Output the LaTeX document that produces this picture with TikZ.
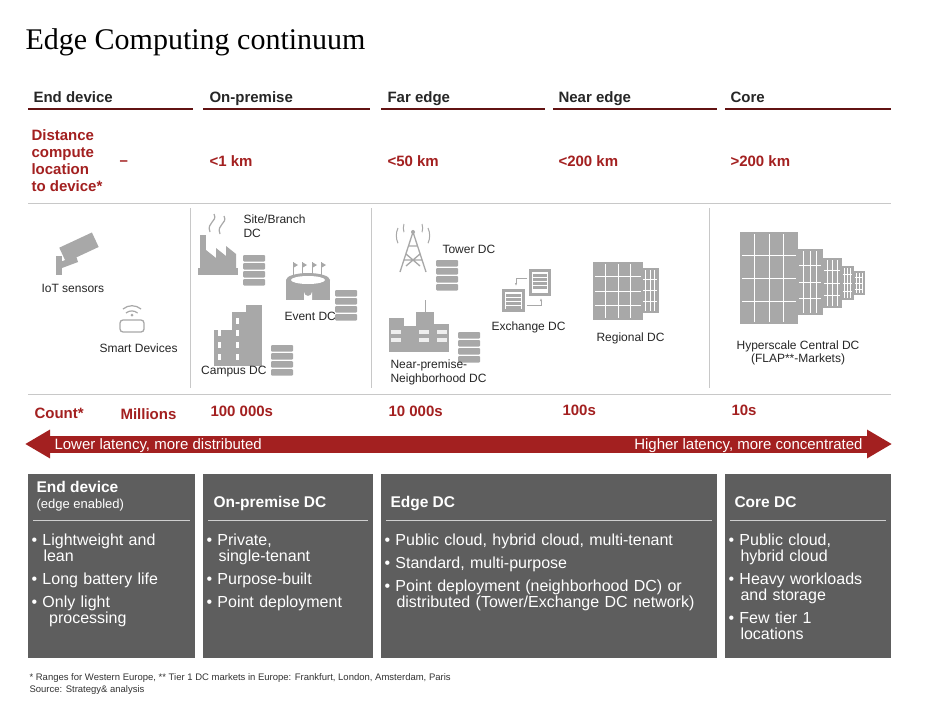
\documentclass[tikz,border=0pt]{standalone}
\usepackage{fontspec}
\setmainfont{Liberation Sans}
\newfontfamily\titlefont{Liberation Serif}
\usetikzlibrary{arrows.meta}
\definecolor{pwcred}{HTML}{A32020}
\definecolor{boxgrey}{HTML}{5E5E5E}
\definecolor{icongrey}{HTML}{A8A8A8}
\definecolor{rulegrey}{HTML}{C8C8C8}
\newcommand{\srvstack}[2]{%
  \foreach \k in {0,1,2,3}{\fill[icongrey,rounded corners=1pt] (#1,#2+\k*8) rectangle ++(22,6.5);}}
\newcommand{\rack}[4]{% x y w h
  \fill[icongrey] (#1,#2) rectangle ++(#3,#4);
  \foreach \i in {1,...,3}{\draw[white,line width=0.6pt] (#1+\i*#3/4,#2+2) -- ++(0,#4-4);}
  \foreach \j in {1,...,3}{\draw[white,line width=0.8pt] (#1+2,#2+\j*#4/4) -- ++(#3-4,0);}}
\tikzset{
  hdr/.style={anchor=base west,font=\fontsize{15}{17}\selectfont\bfseries,text=black!85},
  red/.style={anchor=base west,font=\fontsize{15}{17}\selectfont\bfseries,text=pwcred},
  lbl/.style={anchor=base west,font=\fontsize{12}{14}\selectfont,text=black!85,align=left},
  box/.style={fill=boxgrey,draw=none},
  bt/.style={anchor=north west,font=\fontsize{16}{17}\selectfont,text=white,align=left,text width=#1},
  bh/.style={anchor=base west,font=\fontsize{15.5}{17}\selectfont\bfseries,text=white,align=left},
}
\begin{document}
\begin{tikzpicture}[x=1pt,y=-1pt]
\useasboundingbox[fill=white] (0,0) rectangle (931,701);
\node[anchor=base west,font=\titlefont\fontsize{30}{32}\selectfont] (title) at (22,50) {Edge Computing continuum};
% headers
\foreach \x/\t/\a/\b [count=\n] in {32/End device/28/193,208/On-premise/203/370,386/Far edge/381/545,557/Near edge/553/717,729/Core/725/891}{
  \node[hdr] (h\n) at (\x-2,102) {\t};
  \draw[pwcred!60!black,line width=1.2pt] (\a,109) -- (\b,109);
}
\node[red,align=left,anchor=north west,font=\fontsize{15}{17}\selectfont\bfseries] (dist) at (28,126) {Distance\\compute\\location\\to device*};
\node[red] (d0) at (116,165) {–};
\node[red] (d1) at (206,166) {<1 km};
\node[red] (d2) at (384,166) {<50 km};
\node[red] (d3) at (555,166) {<200 km};
\node[red] (d4) at (727,166) {>200 km};
\draw[rulegrey,line width=1pt] (28,203) -- (891,203);
\draw[rulegrey,line width=1pt] (28,394) -- (891,394);
\foreach \x in {190,371,709}{\draw[rulegrey,line width=0.8pt] (\x,208) -- (\x,388);}
% --- icons ---
% camera
\fill[icongrey,rotate around={25:(78,250)}] (62,240) rectangle (98,256);
\fill[icongrey] (56,256) rectangle (62,275); \fill[icongrey] (60,262) -- (76,256) -- (78,262) -- (62,268) -- cycle;
\node[lbl] (iot) at (38,292) {IoT sensors};
% smart device (VR)
\draw[icongrey,line width=1.3pt,rounded corners=3pt] (120,320) rectangle (144,332);
\draw[icongrey,line width=1.2pt] (126,313) arc (230:310:9);
\draw[icongrey,line width=1.2pt] (123,309) arc (230:310:14);
\fill[icongrey] (132,315) circle (1.5);
\node[lbl] (smart) at (96,352) {Smart Devices};
% factory
\fill[icongrey] (200,235) rectangle (206,268);
\fill[icongrey] (206,268) -- (206,250) -- (216,258) -- (216,248) -- (226,256) -- (226,246) -- (236,254) -- (236,268) -- cycle;
\fill[icongrey] (198,268) rectangle (238,275);
\draw[icongrey,line width=1.2pt] (210,232) .. controls (206,222) and (218,222) .. (214,214);
\draw[icongrey,line width=1.2pt] (220,234) .. controls (216,224) and (228,224) .. (224,216);
\srvstack{243}{255}
\node[lbl] (site) at (240,237) {Site/Branch\\DC};
% stadium
\fill[icongrey] (286,280) rectangle (330,300);
\fill[icongrey] (308,280) ellipse (22 and 7);
\fill[white] (308,280) ellipse (17 and 4);
\foreach \x in {293,302,312,321}{\draw[icongrey,line width=1pt] (\x,276) -- (\x,262); \fill[icongrey] (\x,262) -- (\x+5,265) -- (\x,268) -- cycle;}
\fill[white] (304,300) -- (304,292) arc (180:0:4) -- (312,300) -- cycle;
\srvstack{335}{290}
\node[lbl] (event) at (281,320) {Event DC};
% campus buildings
\fill[icongrey] (214,330) rectangle (232,372);
\fill[icongrey] (232,312) rectangle (246,372);
\fill[icongrey] (246,305) rectangle (262,372);
\foreach \y in {318,330,342,354}{\fill[white] (236,\y) rectangle ++(3,6); \fill[white] (218,\y+12) rectangle ++(3,6);}
\srvstack{271}{345}
\node[lbl,fill=white,inner xsep=1pt,inner ysep=0pt] (campus) at (200,374) {Campus DC};
% tower
\draw[icongrey,line width=1.3pt] (400,272) -- (413,232) -- (426,272) (404,260) -- (422,260) (406,254) -- (420,266) (420,254) -- (406,266) (408,246) -- (418,246);
\fill[icongrey] (413,232) circle (2);
\draw[icongrey,line width=1pt] (404,224) arc (200:160:12) (422,224) arc (-20:20:12);
\draw[icongrey,line width=1pt] (398,228) arc (205:155:18) (428,228) arc (-25:25:18);
\srvstack{436}{260}
\node[lbl] (tower) at (439,253) {Tower DC};
% neighborhood buildings
\fill[icongrey] (389,318) rectangle (404,352);
\fill[icongrey] (404,326) rectangle (416,352);
\fill[icongrey] (416,312) rectangle (434,352);
\fill[icongrey] (434,324) rectangle (449,352);
\draw[icongrey,line width=1pt] (425,312) -- (425,300);
\foreach \x in {391,419,437}{\foreach \y in {330,338}{\fill[white!80!icongrey] (\x,\y) rectangle ++(10,4);}}
\srvstack{458}{332}
\node[lbl] (nbh) at (387,382) {Near-premise-\\Neighborhood DC};
% exchange
\fill[icongrey] (502,289) rectangle (525,312); \fill[white] (505,292) rectangle (522,309);
\foreach \y in {294,298,302,306}{\fill[icongrey] (506,\y) rectangle (521,\y+2.5);}
\fill[icongrey] (529,269) rectangle (551,296); \fill[white] (532,272) rectangle (548,293);
\foreach \y in {274,278,282,286}{\fill[icongrey] (533,\y) rectangle (547,\y+2.5);}
\draw[icongrey,line width=1pt,-{Latex[length=3pt]}] (527,278) -- (516,278) -- (516,286);
\draw[icongrey,line width=1pt,-{Latex[length=3pt]}] (527,305) -- (541,305) -- (541,298);
\node[lbl] (exch) at (488,330) {Exchange DC};
% regional
\rack{641}{268}{18}{45}
\rack{593}{262}{50}{58}
\node[lbl] (reg) at (593,341) {Regional DC};
% hyperscale
\rack{853}{271}{12}{24}
\rack{841}{266}{13}{34}
\rack{822}{258}{20}{50}
\rack{797}{249}{26}{66}
\rack{740}{232}{58}{92}
\node[lbl,align=center,anchor=north,font=\fontsize{12}{13.5}\selectfont] (hyp) at (798,337) {Hyperscale Central DC\\(FLAP**-Markets)};
% count row
\node[red] (c0) at (31,418) {Count*};
\node[red] (c1) at (117,419) {Millions};
\node[red] (c2) at (207,416) {100 000s};
\node[red] (c3) at (385,416) {10 000s};
\node[red] (c4) at (559,415) {100s};
\node[red] (c5) at (728,415) {10s};
% arrow
\coordinate (al) at (25,444); \coordinate (ar) at (892,444);
\draw[pwcred,line width=17pt,{Triangle[length=25pt,width=27pt]}-{Triangle[length=25pt,width=27pt]}] (al) -- (ar);
\node[anchor=base west,font=\fontsize{15}{16}\selectfont,text=white] (lo) at (51,449) {Lower latency, more distributed};
\node[anchor=base east,font=\fontsize{15}{16}\selectfont,text=white] (hi) at (866,449) {Higher latency, more concentrated};
% boxes
\fill[box] (28,474) rectangle (195,658);
\fill[box] (203,474) rectangle (373,658);
\fill[box] (381,474) rectangle (717,658);
\fill[box] (725,474) rectangle (891,658);
\foreach \a/\b in {28/195,203/373,381/717,725/891}{\draw[white!70!boxgrey,line width=0.8pt] (\a+5,520) -- (\b-5,520);}
\node[bh] (b1) at (33,492) {End device};
\node[anchor=base west,font=\fontsize{13}{14}\selectfont,text=white] (b1s) at (33,508) {(edge enabled)};
\node[bh] (b2) at (210,507) {On-premise DC};
\node[bh] (b3) at (387,507) {Edge DC};
\node[bh] (b4) at (731,507) {Core DC};
\node[bt=165pt] (t1) at (28,530) {• Lightweight and\\[-1pt]\hspace*{0.75em}lean\\[6pt]• Long battery life\\[6pt]• Only light\\[-1pt]\hspace*{1.1em}processing};
\node[bt=168pt] (t2) at (203,530) {• Private,\\[-1pt]\hspace*{0.75em}single-tenant\\[6pt]• Purpose-built\\[6pt]• Point deployment};
\node[bt=335pt] (t3) at (381,530) {• Public cloud, hybrid cloud, multi-tenant\\[6pt]• Standard, multi-purpose\\[6pt]• Point deployment (neighborhood DC) or\\[-1pt]\hspace*{0.75em}distributed (Tower/Exchange DC network)};
\node[bt=165pt] (t4) at (725,530) {• Public cloud,\\[-1pt]\hspace*{0.75em}hybrid cloud\\[6pt]• Heavy workloads\\[-1pt]\hspace*{0.75em}and storage\\[6pt]• Few tier 1\\[-1pt]\hspace*{0.75em}locations};
% footnotes
\node[anchor=base west,font=\fontsize{9.5}{11}\selectfont,text=black!80] (f1) at (26,680) {* Ranges for Western Europe, ** Tier 1 DC markets in Europe: Frankfurt, London, Amsterdam, Paris};
\node[anchor=base west,font=\fontsize{9.5}{11}\selectfont,text=black!80] (f2) at (26,692) {Source: Strategy\& analysis};
\end{tikzpicture}
\end{document}
